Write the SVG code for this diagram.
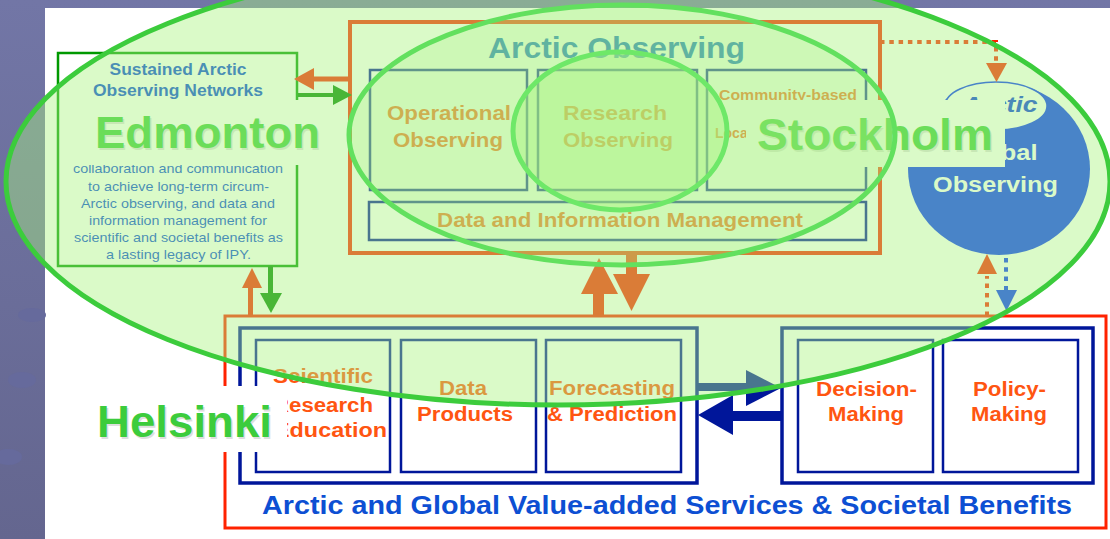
<svg xmlns="http://www.w3.org/2000/svg" width="1110" height="539" viewBox="0 0 1110 539">
<defs>
<linearGradient id="bgp" x1="0" y1="0" x2="0" y2="1">
<stop offset="0" stop-color="#7276a6"/>
<stop offset="1" stop-color="#64668f"/>
</linearGradient>
<style>
text{font-family:"Liberation Sans",Arial,sans-serif;}
.b{font-weight:bold;}
.sust{fill:#0044dd;}
.body{font-size:13.5px;fill:#0044dd;text-anchor:middle;}
.box{fill:none;stroke:#00169a;stroke-width:2.5;}
.grp{fill:none;stroke:#00169a;stroke-width:3.5;}
.lab{font-size:20px;font-weight:bold;fill:#ff5511;}
.obs{font-size:21px;font-weight:bold;fill:#ff5511;text-anchor:middle;}
.big{font-size:45px;font-weight:bold;fill:#3ccc3c;}
.sh{font-size:45px;font-weight:bold;fill:#dedede;}
.red{fill:#ff2200;}
.dot{fill:none;stroke-width:4;stroke-dasharray:4.5 4.8;}
</style>
</defs>
<rect x="0" y="0" width="1110" height="539" fill="url(#bgp)"/>
<rect x="45" y="8" width="1065" height="531" fill="#ffffff"/>
<g fill="#666a9c">
<ellipse cx="32" cy="315" rx="14" ry="7"/>
<ellipse cx="22" cy="380" rx="14" ry="8"/>
<ellipse cx="8" cy="457" rx="14" ry="8"/>
</g>

<g id="sustained">
<rect x="58" y="53" width="239" height="213" fill="#ffffff" stroke="#009900" stroke-width="2.5"/>
<text class="b sust" x="178" y="75" font-size="16" text-anchor="middle" textLength="137" lengthAdjust="spacingAndGlyphs">Sustained Arctic</text>
<text class="b sust" x="178" y="96" font-size="16" text-anchor="middle" textLength="170" lengthAdjust="spacingAndGlyphs">Observing Networks</text>
<text class="body" x="178" y="173" textLength="210" lengthAdjust="spacingAndGlyphs">collaboration and communication</text>
<text class="body" x="178.5" y="191" textLength="181" lengthAdjust="spacingAndGlyphs">to achieve long-term circum-</text>
<text class="body" x="178" y="208" textLength="194" lengthAdjust="spacingAndGlyphs">Arctic observing, and data and</text>
<text class="body" x="178" y="225" textLength="178" lengthAdjust="spacingAndGlyphs">information management for</text>
<text class="body" x="178.5" y="242" textLength="209" lengthAdjust="spacingAndGlyphs">scientific and societal benefits as</text>
<text class="body" x="178.5" y="259" textLength="145" lengthAdjust="spacingAndGlyphs">a lasting legacy of IPY.</text>
</g>

<g id="arctic-observing">
<rect x="350" y="22" width="530" height="231" fill="none" stroke="#ff2200" stroke-width="4"/>
<text class="b" x="616.5" y="58" font-size="30" fill="#005ecc" text-anchor="middle" textLength="257" lengthAdjust="spacingAndGlyphs">Arctic Observing</text>
</g>
<g id="operational">
<rect class="box" x="370" y="70" width="157" height="120"/>
<text class="obs" x="449" y="120" textLength="124" lengthAdjust="spacingAndGlyphs">Operational</text>
<text class="obs" x="448" y="147" textLength="110" lengthAdjust="spacingAndGlyphs">Observing</text>
</g>
<g id="research">
<rect class="box" x="538" y="70" width="159" height="120"/>
<text class="obs" x="615" y="120" textLength="104" lengthAdjust="spacingAndGlyphs">Research</text>
<text class="obs" x="618" y="147" textLength="110" lengthAdjust="spacingAndGlyphs">Observing</text>
</g>
<g id="community">
<rect class="box" x="707" y="70" width="159" height="120"/>
<text class="b" x="788" y="100" font-size="15" fill="#ff5511" text-anchor="middle" textLength="138" lengthAdjust="spacingAndGlyphs">Community-based</text>
<text class="b" x="715" y="138" font-size="14" fill="#ff5511">Local</text>
</g>
<g id="data-management">
<rect class="box" x="369" y="202" width="497" height="38"/>
<text class="b" x="620" y="227" font-size="20.5" fill="#ff5511" text-anchor="middle" textLength="366" lengthAdjust="spacingAndGlyphs">Data and Information Management</text>
</g>

<g id="global-observing">
<ellipse cx="999" cy="169" rx="91" ry="86" fill="#0030ff"/>
<ellipse cx="996" cy="106" rx="51" ry="24" fill="#ffffff" stroke="#0030ff" stroke-width="1.5"/>
<text class="b" x="1000" y="112" font-size="22" font-style="italic" fill="#0037e3" text-anchor="middle" textLength="75" lengthAdjust="spacingAndGlyphs">Arctic</text>
<text class="b" x="998" y="160" font-size="22" fill="#ffffff" text-anchor="middle" textLength="79" lengthAdjust="spacingAndGlyphs">Global</text>
<text class="b" x="995.5" y="192" font-size="22" fill="#ffffff" text-anchor="middle" textLength="125" lengthAdjust="spacingAndGlyphs">Observing</text>
</g>

<g id="services">
<rect x="225" y="316" width="881" height="212" fill="none" stroke="#ff2200" stroke-width="3"/>
<text class="b" x="667" y="514" font-size="25.5" fill="#0d4fd3" text-anchor="middle" textLength="810" lengthAdjust="spacingAndGlyphs">Arctic and Global Value-added Services &amp; Societal Benefits</text>
</g>
<g id="products-group">
<rect class="grp" x="240" y="328" width="457" height="155"/>
</g>
<g id="scientific">
<rect class="box" x="256" y="340" width="134" height="132"/>
<text class="lab" x="273" y="383" textLength="100" lengthAdjust="spacingAndGlyphs">Scientific</text>
<text class="lab" x="273" y="412" textLength="100" lengthAdjust="spacingAndGlyphs">Research</text>
<text class="lab" x="274" y="437" textLength="113" lengthAdjust="spacingAndGlyphs">Education</text>
</g>
<g id="data-products">
<rect class="box" x="401" y="340" width="135" height="132"/>
<text class="lab" x="463" y="395" text-anchor="middle" textLength="48" lengthAdjust="spacingAndGlyphs">Data</text>
<text class="lab" x="465" y="421" text-anchor="middle" textLength="96" lengthAdjust="spacingAndGlyphs">Products</text>
</g>
<g id="forecasting">
<rect class="box" x="546" y="340" width="135" height="132"/>
<text class="lab" x="612" y="395" text-anchor="middle" textLength="126" lengthAdjust="spacingAndGlyphs">Forecasting</text>
<text class="lab" x="612" y="421" text-anchor="middle" textLength="130" lengthAdjust="spacingAndGlyphs">&amp; Prediction</text>
</g>
<g id="decisions-group">
<rect class="grp" x="782" y="328" width="311" height="155"/>
</g>
<g id="decision-making">
<rect class="box" x="798" y="340" width="135" height="132"/>
<text class="lab" x="866.5" y="396" text-anchor="middle" textLength="101" lengthAdjust="spacingAndGlyphs">Decision-</text>
<text class="lab" x="866" y="421" text-anchor="middle" textLength="76" lengthAdjust="spacingAndGlyphs">Making</text>
</g>
<g id="policy-making">
<rect class="box" x="943" y="340" width="135" height="132"/>
<text class="lab" x="1009.5" y="396" text-anchor="middle" textLength="73" lengthAdjust="spacingAndGlyphs">Policy-</text>
<text class="lab" x="1009" y="421" text-anchor="middle" textLength="76" lengthAdjust="spacingAndGlyphs">Making</text>
</g>

<g id="connectors">
<rect class="red" x="312" y="76.5" width="38" height="5"/>
<polygon class="red" points="294,79 314,68 314,90"/>
<rect x="298" y="93" width="36" height="4" fill="#008800"/>
<polygon points="352,95 333,85 333,105" fill="#008800"/>
<rect class="red" x="248" y="286" width="5" height="30"/>
<polygon class="red" points="252,268 242,288 262,288"/>
<rect x="268" y="266" width="5" height="28" fill="#008800"/>
<polygon points="260,293 282,293 271,313" fill="#008800"/>
<rect class="red" x="593" y="292" width="11" height="24"/>
<polygon class="red" points="599,258 581,294 618,294"/>
<rect class="red" x="626" y="253" width="11" height="23"/>
<polygon class="red" points="613,274 650,274 631.5,311"/>
<polyline class="dot" points="880,42 996,42 996,63" stroke="#ff2200"/>
<polygon class="red" points="986,63 1007,63 996.5,82"/>
<line class="dot" x1="987" y1="316" x2="987" y2="276" stroke="#ff2200"/>
<polygon class="red" points="977,274 997,274 987,254"/>
<line class="dot" x1="1006" y1="258" x2="1006" y2="291" stroke="#0030ff"/>
<polygon points="996,290 1017,290 1006.5,311" fill="#0030ff"/>
<rect x="697" y="383" width="50" height="8" fill="#00169a"/>
<polygon points="746,370 746,406 781,388" fill="#00169a"/>
<rect x="732" y="411" width="50" height="10" fill="#00169a"/>
<polygon points="733,395 733,435 698,415" fill="#00169a"/>
</g>

<g id="city-labels">
<rect x="60" y="100" width="262" height="65" fill="#ffffff"/>
<text class="sh" x="96.5" y="149.5" textLength="225" lengthAdjust="spacingAndGlyphs">Edmonton</text>
<text class="big" x="95" y="148" textLength="225" lengthAdjust="spacingAndGlyphs">Edmonton</text>
<rect x="746" y="100" width="259" height="67" fill="#ffffff"/>
<text class="sh" x="758.5" y="151.5" textLength="236" lengthAdjust="spacingAndGlyphs">Stockholm</text>
<text class="big" x="757" y="150" textLength="236" lengthAdjust="spacingAndGlyphs">Stockholm</text>
<rect x="90" y="386" width="197" height="66" fill="#ffffff"/>
<text class="sh" x="98.5" y="438.5" textLength="175" lengthAdjust="spacingAndGlyphs">Helsinki</text>
<text class="big" x="97" y="437" textLength="175" lengthAdjust="spacingAndGlyphs">Helsinki</text>
</g>

<g id="edmonton-region">
<ellipse cx="558" cy="181.5" rx="552" ry="223.5" fill="#a9f37f" fill-opacity="0.43" stroke="#3ccc3c" stroke-width="5"/>
</g>
<g id="stockholm-region">
<ellipse cx="622" cy="135" rx="273" ry="130" fill="#a9f37f" fill-opacity="0.25" stroke="#62e05e" stroke-width="5"/>
</g>
<g id="research-region">
<ellipse cx="620" cy="131" rx="107" ry="79" fill="#a9f37f" fill-opacity="0.45" stroke="#6ee868" stroke-width="5"/>
</g>
</svg>
